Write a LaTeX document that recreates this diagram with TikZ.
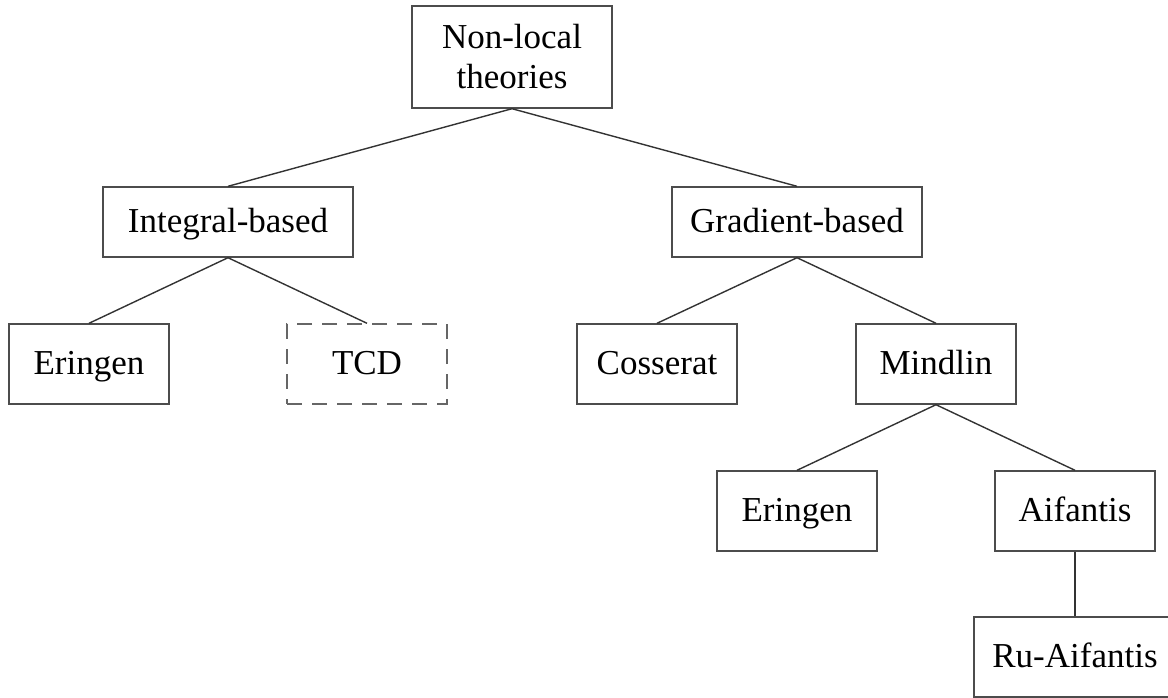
\documentclass[tikz,border=0pt]{standalone}
\usepackage{fontspec}
\setmainfont{Liberation Serif}
\begin{document}
\begin{tikzpicture}[x=0.5pt, y=-0.5pt,
  frame/.style={draw=black!70, line width=0.7pt, minimum width=80pt, minimum height=40pt,
    inner sep=0pt, align=center, font=\fontsize{17.5}{20}\selectfont},
  box/.style={frame, text height=12pt, text depth=1.5pt},
  dashbox/.style={box, draw=black!60, dash pattern=on 7.5pt off 5pt},
  link/.style={draw=black!80, line width=0.7pt}]
  \useasboundingbox (0,0) rectangle (1168,697);
  \clip (0,0) rectangle (1168,697);
  \node[frame, minimum width=100pt, minimum height=51pt] (nonlocal) at (512,57) {Non-local\\theories};
  \node[box, minimum width=125pt, minimum height=35pt] (integral) at (228,222) {Integral-based};
  \node[box, minimum width=125pt, minimum height=35pt] (gradient) at (797,222) {Gradient-based};
  \node[box] (eringenA) at (89,364) {Eringen};
  \node[dashbox] (tcd) at (367,364) {TCD};
  \node[box] (cosserat) at (657,364) {Cosserat};
  \node[box] (mindlin) at (936,364) {Mindlin};
  \node[box] (eringenB) at (797,511) {Eringen};
  \node[box] (aifantis) at (1075,511) {Aifantis};
  \node[box, minimum width=101pt] (ruaifantis) at (1075,657) {Ru-Aifantis};
  \draw[link] (nonlocal.south) -- (integral.north);
  \draw[link] (nonlocal.south) -- (gradient.north);
  \draw[link] (integral.south) -- (eringenA.north);
  \draw[link] (integral.south) -- (tcd.north);
  \draw[link] (gradient.south) -- (cosserat.north);
  \draw[link] (gradient.south) -- (mindlin.north);
  \draw[link] (mindlin.south) -- (eringenB.north);
  \draw[link] (mindlin.south) -- (aifantis.north);
  \draw[link] (aifantis.south) -- (ruaifantis.north);
\end{tikzpicture}
\end{document}
